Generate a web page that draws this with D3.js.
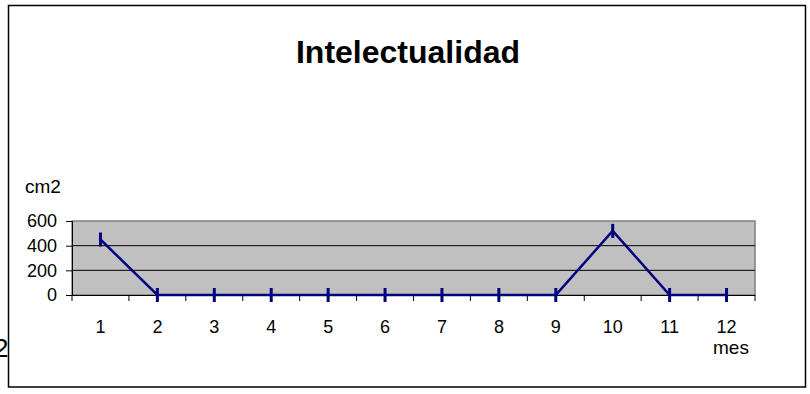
<!DOCTYPE html>
<html>
<head>
<meta charset="utf-8">
<script src="https://cdn.jsdelivr.net/npm/d3@7"></script>
<style>
  body { margin: 0; background: #fff; }
  svg { display: block; font-family: Arial, "Liberation Sans", sans-serif; }
</style>
</head>
<body>
<svg id="chart" width="810" height="394"></svg>
<script>
// data
var months = ["1", "2", "3", "4", "5", "6", "7", "8", "9", "10", "11", "12"];
var values = [450, 0, 0, 0, 0, 0, 0, 0, 0, 520, 0, 0];
var yTicks = [0, 200, 400, 600];

var svg = d3.select("#chart");

// outer frame
svg.append("rect")
    .attr("x", 8.5).attr("y", 5.5)
    .attr("width", 797).attr("height", 381.5)
    .attr("fill", "#fff").attr("stroke", "#000").attr("stroke-width", 1.5);

// leftover glyph of neighbouring chart
svg.append("text")
    .attr("x", -6).attr("y", 357)
    .style("font-size", "26px")
    .text("2");

var plot = { left: 72, right: 755, top: 221, bottom: 295 };

var x = d3.scaleBand()
    .domain(months)
    .range([plot.left, plot.right]);

var y = d3.scaleLinear()
    .domain([0, 600])
    .range([plot.bottom, plot.top]);

svg.append("text")
    .attr("x", 408).attr("y", 63)
    .attr("text-anchor", "middle")
    .style("font-size", "32px")
    .style("font-weight", "bold")
    .text("Intelectualidad");

// plot background
svg.append("rect")
    .attr("x", plot.left).attr("y", plot.top)
    .attr("width", plot.right - plot.left).attr("height", plot.bottom - plot.top)
    .attr("fill", "#c0c0c0")
    .attr("stroke", "#808080").attr("stroke-width", 1.5);

// gridlines
svg.append("g")
    .selectAll("line")
    .data(yTicks.filter(d => d > 0 && d < 600))
    .join("line")
    .attr("x1", plot.left).attr("x2", plot.right)
    .attr("y1", d => y(d)).attr("y2", d => y(d))
    .attr("stroke", "#000").attr("stroke-width", 1);

// y axis
var yAxis = svg.append("g")
    .attr("transform", `translate(${plot.left},0)`)
    .call(d3.axisLeft(y).tickValues(yTicks).tickSize(6).tickPadding(9));
yAxis.select(".domain").attr("stroke", "#000");
yAxis.selectAll("text").style("font-size", "18px").attr("fill", "#000");

// x axis
var xAxis = svg.append("g")
    .attr("transform", `translate(0,${plot.bottom})`)
    .call(d3.axisBottom(x).tickSize(0).tickPadding(25));
xAxis.select(".domain").attr("stroke", "#000").attr("d", `M${plot.left - 6},0.5H${plot.right}`);
xAxis.selectAll("text").style("font-size", "18px").attr("fill", "#000");

// category boundary ticks
svg.append("g")
    .selectAll("line")
    .data(months.concat(["end"]))
    .join("line")
    .attr("x1", (d, i) => plot.left + i * x.step())
    .attr("x2", (d, i) => plot.left + i * x.step())
    .attr("y1", plot.bottom).attr("y2", plot.bottom + 6)
    .attr("stroke", "#000");

svg.append("text")
    .attr("x", 25).attr("y", 193)
    .style("font-size", "19px")
    .text("cm2");

svg.append("text")
    .attr("x", 713).attr("y", 354)
    .style("font-size", "19px")
    .text("mes");

// series line
var line = d3.line()
    .x((d, i) => x(months[i]) + x.bandwidth() / 2)
    .y(d => y(d));

svg.append("path")
    .datum(values)
    .attr("d", line)
    .attr("fill", "none")
    .attr("stroke", "#000080")
    .attr("stroke-width", 2.5);

// dash markers
svg.append("g")
    .selectAll("line")
    .data(values)
    .join("line")
    .attr("x1", (d, i) => x(months[i]) + x.bandwidth() / 2)
    .attr("x2", (d, i) => x(months[i]) + x.bandwidth() / 2)
    .attr("y1", d => y(d) - 7).attr("y2", d => y(d) + 7)
    .attr("stroke", "#000080")
    .attr("stroke-width", 3);
</script>
</body>
</html>
